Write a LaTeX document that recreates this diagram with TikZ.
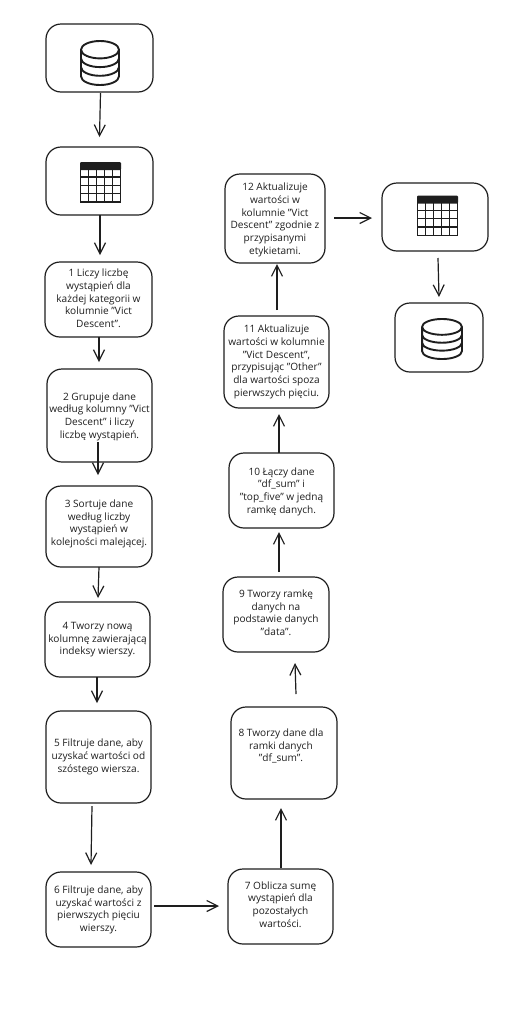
\documentclass[tikz,border=0pt]{standalone}
\usepackage{fontspec}
\setmainfont{Open Sans}
\usetikzlibrary{arrows.meta}
\definecolor{ink}{HTML}{1E1E1E}
\newcommand\boxtext[3]{\makebox[0pt]{\hspace*{\dimexpr 2\dimexpr #1pt\relax\relax}\raisebox{\dimexpr -#2pt - 2.5pt\relax}[0pt][0pt]{\begin{tabular}{@{}c@{}}#3\end{tabular}}}}
\tikzset{
  x=1pt,y=-1pt,
  flowbox/.style={draw=ink,line width=1.2pt,rounded corners=15pt,inner sep=0pt,outer sep=0pt,fill=white,
    font=\fontsize{10.1}{12.67}\selectfont,text=ink},
  arr/.style={draw=ink,line width=1.2pt,-{Straight Barb[length=11pt,width=11pt,line width=1.2pt]}},
  thickarr/.style={arr,line width=1.8pt},
  pics/dbicon/.style={code={
    \draw[ink,line width=1.9pt,line join=round]
      (-19,-13.3) arc[start angle=180,end angle=-180,x radius=19,y radius=8.7]
      (-19,-13.3) -- (-19,13.3) arc[start angle=180,end angle=0,x radius=19,y radius=8.7] -- (19,-13.3)
      (-19,-4.6) arc[start angle=180,end angle=0,x radius=19,y radius=8.7]
      (-19,4.1) arc[start angle=180,end angle=0,x radius=19,y radius=8.7];
  }},
  pics/tableicon/.style={code={
    \fill[ink,rounded corners=1.2pt] (-20.5,-20) rectangle (20.5,-12);
    \draw[ink,line width=1.3pt] (-20,-13) rectangle (20,20);
    \foreach \i in {-12,-4,4,12}{\draw[ink,line width=1.3pt] (\i,-13) -- (\i,20);}
    \foreach \j in {-5,3.3,11.6}{\draw[ink,line width=1.3pt] (-20,\j) -- (20,\j);}
  }}
}
\begin{document}
\begin{tikzpicture}
\useasboundingbox[fill=white] (0,0) rectangle (517,1018);
\node[flowbox,minimum width=107pt,minimum height=68pt] (n0) at (99.5,58) {};
\node[flowbox,minimum width=107pt,minimum height=68pt] (n1) at (99.5,181) {};
\node[flowbox,minimum width=107pt,minimum height=75pt] (s1) at (98.5,299.5) {\boxtext{0}{0}{1 Liczy liczbę\\wystąpień dla\\każdej kategorii w\\kolumnie "Vict\\Descent".}};
\node[flowbox,minimum width=105pt,minimum height=93pt] (s2) at (99.5,415.5) {\boxtext{0}{1}{2 Grupuje dane\\według kolumny "Vict\\Descent" i liczy\\liczbę wystąpień.}};
\node[flowbox,minimum width=106pt,minimum height=81pt] (s3) at (99,526.5) {\boxtext{0}{-2.5}{3 Sortuje dane\\według liczby\\wystąpień w\\kolejności malejącej.}};
\node[flowbox,minimum width=105pt,minimum height=75pt] (s4) at (97.5,639.5) {\boxtext{0}{0}{4 Tworzy nową\\kolumnę zawierającą\\indeksy wierszy.}};
\node[flowbox,minimum width=105pt,minimum height=92pt] (s5) at (98.5,757) {\boxtext{0}{0}{5 Filtruje dane, aby\\uzyskać wartości od\\szóstego wiersza.}};
\node[flowbox,minimum width=105pt,minimum height=75pt] (s6) at (98.5,909.5) {\boxtext{0}{0.5}{6 Filtruje dane, aby\\uzyskać wartości z\\pierwszych pięciu\\wierszy.}};
\node[flowbox,minimum width=105pt,minimum height=75pt] (s7) at (280.5,906.5) {\boxtext{0}{-1}{7 Oblicza sumę\\wystąpień dla\\pozostałych\\wartości.}};
\node[flowbox,minimum width=106pt,minimum height=92pt] (s8) at (284,753) {\boxtext{-3}{-6.5}{8 Tworzy dane dla\\ramki danych\\"df\_sum".}};
\node[flowbox,minimum width=106pt,minimum height=75pt] (s9) at (276,614.5) {\boxtext{0}{-0.5}{9 Tworzy ramkę\\danych na\\podstawie danych\\"data".}};
\node[flowbox,minimum width=105pt,minimum height=75pt] (s10) at (281.5,490.5) {\boxtext{0}{1}{10 Łączy dane\\"df\_sum" i\\"top\_five" w jedną\\ramkę danych.}};
\node[flowbox,minimum width=105pt,minimum height=92pt] (s11) at (276.5,362) {\boxtext{0}{0}{11 Aktualizuje\\wartości w kolumnie\\"Vict Descent",\\przypisując "Other"\\dla wartości spoza\\pierwszych pięciu.}};
\node[flowbox,minimum width=100pt,minimum height=89pt] (s12) at (275,218.5) {\boxtext{0}{1.5}{12 Aktualizuje\\wartości w\\kolumnie "Vict\\Descent" zgodnie z\\przypisanymi\\etykietami.}};
\node[flowbox,minimum width=106pt,minimum height=68pt] (n2) at (435,217) {};
\node[flowbox,minimum width=88pt,minimum height=69pt] (n3) at (439,337.5) {};
\pic at (100,63) {dbicon};
\pic at (100.5,182) {tableicon};
\pic at (437.5,215.5) {tableicon};
\pic[xscale=1.05,yscale=.91] at (442,339) {dbicon};
\draw[arr] ([shift={(1,1)}]n0.south) -- ([shift={(0,-10)}]n1.north);
\draw[arr] ([shift={(.5,0)}]n1.south) -- ([shift={(1.5,-7)}]s1.north);
\draw[arr] ([shift={(.5,0)}]s1.south) -- ([shift={(-.5,-7)}]s2.north);
\draw[arr] ([shift={(-1.5,-20)}]s2.south) -- ([shift={(-1,-11)}]s3.north);
\draw[arr] (s3.south) -- ([shift={(.5,-4)}]s4.north);
\draw[arr] ([shift={(-.5,0)}]s4.south) -- ([shift={(-1.5,-8)}]s5.north);
\draw[arr] ([shift={(-6.5,3)}]s5.south) -- ([shift={(-7.5,-7)}]s6.north);
\draw[thickarr] ([shift={(3,-3.5)}]s6.east) -- ([shift={(-9,-.5)}]s7.west);
\draw[arr] ([shift={(.5,-1)}]s7.north) -- ([shift={(-3,9)}]s8.south);
\draw[arr] ([shift={(12,-13)}]s8.north) -- ([shift={(19,11)}]s9.south);
\draw[arr] ([shift={(3,-5)}]s9.north) -- ([shift={(-2.5,4)}]s10.south);
\draw[arr] ([shift={(-2.5,0)}]s10.north) -- ([shift={(2.5,6)}]s11.south);
\draw[arr] ([shift={(.5,-6)}]s11.north) -- ([shift={(2,1)}]s12.south);
\draw[arr] ([shift={(9,-.5)}]s12.east) -- ([shift={(-10,1)}]n2.west);
\draw[arr] ([shift={(3,7)}]n2.south) -- ([shift={(0,-6)}]n3.north);
\end{tikzpicture}
\end{document}
